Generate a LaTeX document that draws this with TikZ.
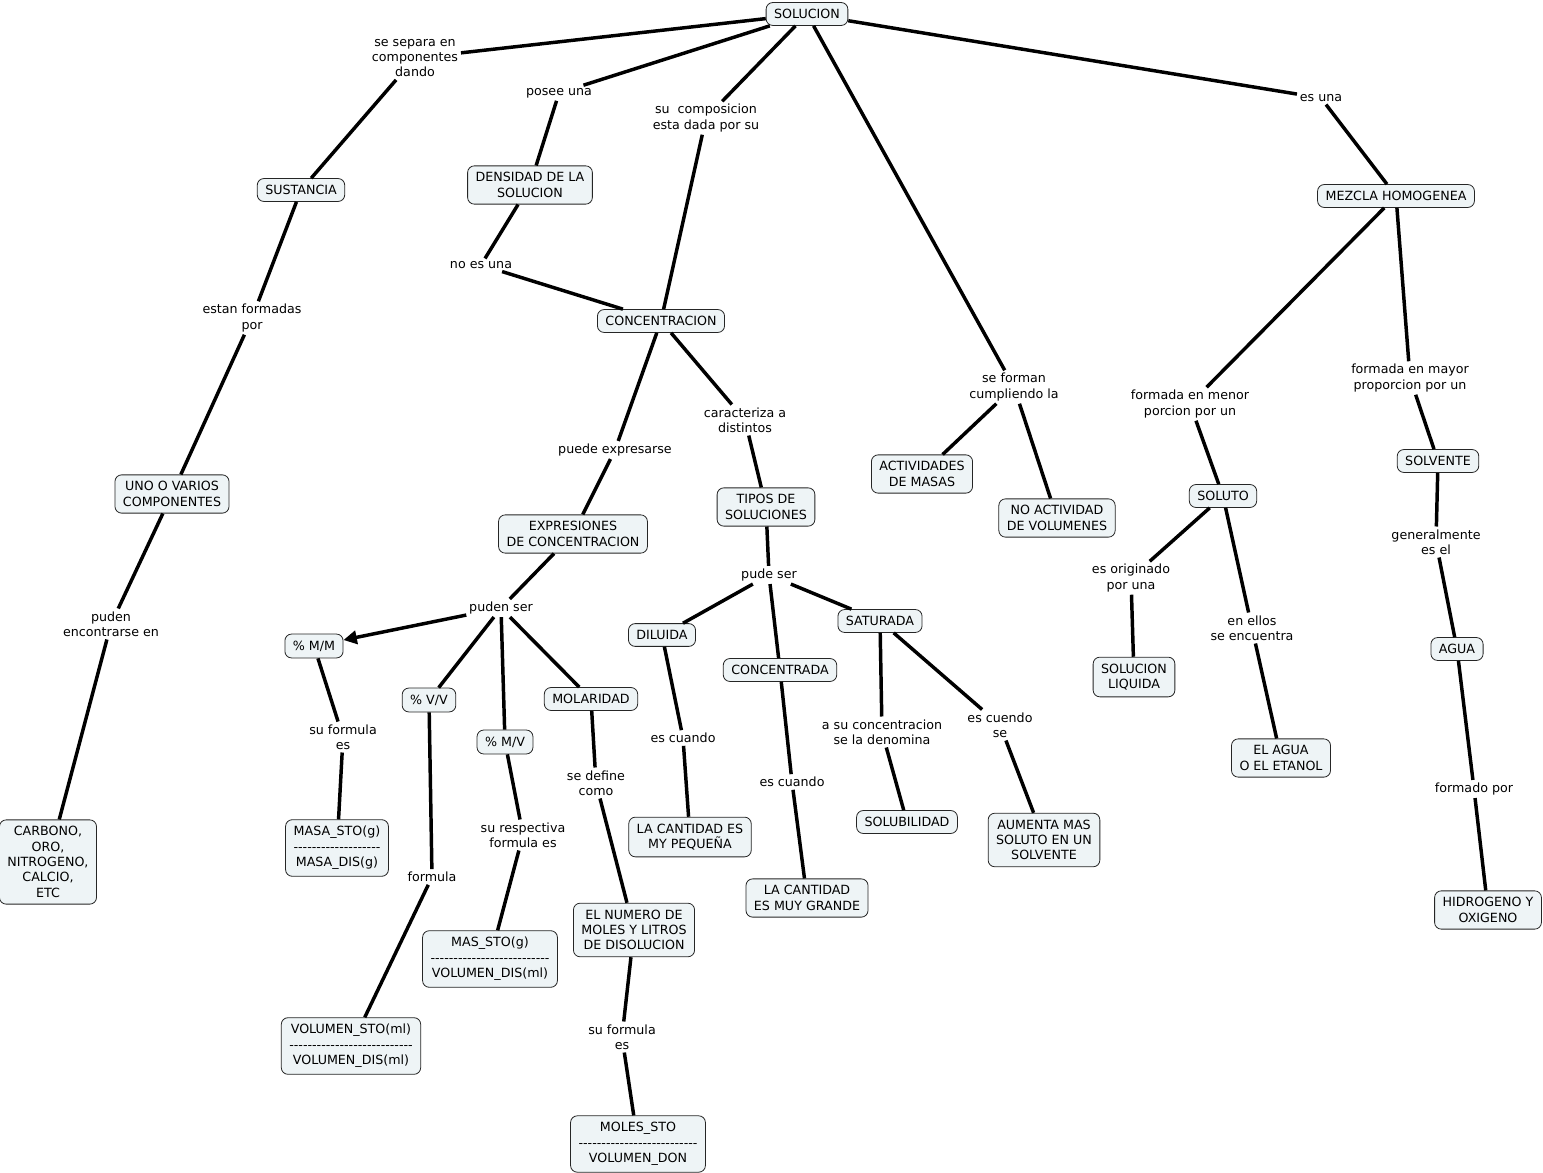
\documentclass[tikz,border=0pt]{standalone}
\usepackage{fontspec}
\setmainfont{DejaVu Sans}
\usetikzlibrary{arrows.meta}
\definecolor{cmapfill}{RGB}{238,244,246}

% linea de guiones sin ligaduras
\newcommand{\fracdash}[1]{\foreach \i in {1,...,#1}{-}}

\tikzset{
  concept/.style={draw=black!85, line width=0.6pt, fill=cmapfill, rounded corners=5pt,
    align=center, font=\fontsize{9.5}{11.5}\selectfont, inner xsep=6pt, inner ysep=5pt},
  linkword/.style={align=center, font=\fontsize{9.5}{11.5}\selectfont, inner sep=2pt},
  link/.style={line width=2.6pt, black}
}

\begin{document}
\begin{tikzpicture}[x=0.75pt, y=-0.75pt, >={Triangle[length=10pt,width=10pt]}]
        \useasboundingbox (0,0) rectangle (1543,1173);

        % --- Conceptos ---
        \node[concept] (sol) at (807,14) {SOLUCION};
        \node[concept] (sust) at (301,190) {SUSTANCIA};
        \node[concept] (dens) at (530,185) {DENSIDAD DE LA\\SOLUCION};
        \node[concept] (conc) at (661,321) {CONCENTRACION};
        \node[concept] (mezcla) at (1396,196) {MEZCLA HOMOGENEA};
        \node[concept] (uno) at (172,494) {UNO O VARIOS\\COMPONENTES};
        \node[concept] (carb) at (48,862) {CARBONO,\\ORO,\\NITROGENO,\\CALCIO,\\ETC};
        \node[concept] (expr) at (573,534) {EXPRESIONES\\DE CONCENTRACION};
        \node[concept] (tipos) at (766,507) {TIPOS DE\\SOLUCIONES};
        \node[concept] (activ) at (922,474) {ACTIVIDADES\\DE MASAS};
        \node[concept] (noact) at (1057,518) {NO ACTIVIDAD\\DE VOLUMENES};
        \node[concept] (soluto) at (1223,496) {SOLUTO};
        \node[concept] (solvente) at (1438,461) {SOLVENTE};
        \node[concept] (mm) at (314,646) {\% M/M};
        \node[concept] (vv) at (429,700) {\% V/V};
        \node[concept] (mv) at (505,742) {\% M/V};
        \node[concept] (molar) at (591,699) {MOLARIDAD};
        \node[concept] (dil) at (662,635) {DILUIDA};
        \node[concept] (concd) at (780,670) {CONCENTRADA};
        \node[concept] (sat) at (880,621) {SATURADA};
        \node[concept] (masa) at (337,848) {MASA\_STO(g)\\\fracdash{19}\\MASA\_DIS(g)};
        \node[concept] (vol) at (351,1046) {VOLUMEN\_STO(ml)\\\fracdash{27}\\VOLUMEN\_DIS(ml)};
        \node[concept] (mas) at (490,959) {MAS\_STO(g)\\\fracdash{26}\\VOLUMEN\_DIS(ml)};
        \node[concept] (numero) at (634,930) {EL NUMERO DE\\MOLES Y LITROS\\DE DISOLUCION};
        \node[concept] (moles) at (638,1144) {MOLES\_STO\\\fracdash{26}\\VOLUMEN\_DON};
        \node[concept] (pequena) at (690,837) {LA CANTIDAD ES\\MY PEQUEÑA};
        \node[concept] (grande) at (807,898) {LA CANTIDAD\\ES MUY GRANDE};
        \node[concept] (solub) at (907,822) {SOLUBILIDAD};
        \node[concept] (aumenta) at (1044,840) {AUMENTA MAS\\SOLUTO EN UN\\SOLVENTE};
        \node[concept] (liquida) at (1134,677) {SOLUCION\\LIQUIDA};
        \node[concept] (etanol) at (1281,758) {EL AGUA\\O EL ETANOL};
        \node[concept] (agua) at (1457,649) {AGUA};
        \node[concept] (hidro) at (1488,910) {HIDROGENO Y\\OXIGENO};

        % --- Palabras de enlace ---
        \node[linkword] (lsep) at (415,58) {se separa en\\componentes\\dando};
        \node[linkword] (lposee) at (559,93) {posee una};
        \node[linkword] (lcomp) at (706,118) {su\ \ composicion\\esta dada por su};
        \node[linkword] (lforman) at (1014,387) {se forman\\cumpliendo la};
        \node[linkword] (lesuna) at (1321,98) {es una};
        \node[linkword] (lnoes) at (481,265) {no es una};
        \node[linkword] (lestan) at (252,318) {estan formadas\\por};
        \node[linkword] (lpuden) at (111,624) {puden\\encontrarse en};
        \node[linkword] (lexpresa) at (615,450) {puede expresarse};
        \node[linkword] (lcaract) at (745,420) {caracteriza a\\distintos};
        \node[linkword] (lpudenser) at (501,608) {puden ser};
        \node[linkword] (lformm) at (343,737) {su formula\\es};
        \node[linkword] (lformvv) at (432,877) {formula};
        \node[linkword] (lformmv) at (523,835) {su respectiva\\formula es};
        \node[linkword] (ldefine) at (596,783) {se define\\como};
        \node[linkword] (lformmol) at (622,1037) {su formula\\es};
        \node[linkword] (lpude) at (769,575) {pude ser};
        \node[linkword] (lcuandodil) at (683,738) {es cuando};
        \node[linkword] (lcuandocon) at (792,782) {es cuando};
        \node[linkword] (ldenomina) at (882,732) {a su concentracion\\se la denomina};
        \node[linkword] (lcuendo) at (1000,725) {es cuendo\\se};
        \node[linkword] (lmenor) at (1190,404) {formada en menor\\porcion por un};
        \node[linkword] (lmayor) at (1410,378) {formada en mayor\\proporcion por un};
        \node[linkword] (loriginado) at (1131,578) {es originado\\por una};
        \node[linkword] (lellos) at (1252,628) {en ellos\\se encuentra};
        \node[linkword] (lgeneral) at (1436,542) {generalmente\\es el};
        \node[linkword] (lformado) at (1474,789) {formado por};

        % --- Enlaces ---
        \draw[link] (sol) -- (lsep) -- (sust);
        \draw[link] (sol) -- (lposee) -- (dens);
        \draw[link] (sol) -- (lcomp) -- (conc);
        \draw[link] (sol) -- (lforman);
        \draw[link] (lforman) -- (activ);
        \draw[link] (lforman) -- (noact);
        \draw[link] (sol) -- (lesuna) -- (mezcla);
        \draw[link] (dens) -- (lnoes) -- (conc);
        \draw[link] (sust) -- (lestan) -- (uno);
        \draw[link] (uno) -- (lpuden) -- (carb);
        \draw[link] (conc) -- (lexpresa) -- (expr);
        \draw[link] (conc) -- (lcaract) -- (tipos);
        \draw[link] (expr) -- (lpudenser);
        \draw[link, ->] (lpudenser) -- (mm);
        \draw[link] (lpudenser) -- (vv);
        \draw[link] (lpudenser) -- (mv);
        \draw[link] (lpudenser) -- (molar);
        \draw[link] (mm) -- (lformm) -- (masa);
        \draw[link] (vv) -- (lformvv) -- (vol);
        \draw[link] (mv) -- (lformmv) -- (mas);
        \draw[link] (molar) -- (ldefine) -- (numero);
        \draw[link] (numero) -- (lformmol) -- (moles);
        \draw[link] (tipos) -- (lpude);
        \draw[link] (lpude) -- (dil);
        \draw[link] (lpude) -- (concd);
        \draw[link] (lpude) -- (sat);
        \draw[link] (dil) -- (lcuandodil) -- (pequena);
        \draw[link] (concd) -- (lcuandocon) -- (grande);
        \draw[link] (sat) -- (ldenomina) -- (solub);
        \draw[link] (sat) -- (lcuendo) -- (aumenta);
        \draw[link] (mezcla) -- (lmenor) -- (soluto);
        \draw[link] (mezcla) -- (lmayor) -- (solvente);
        \draw[link] (soluto) -- (loriginado) -- (liquida);
        \draw[link] (soluto) -- (lellos) -- (etanol);
        \draw[link] (solvente) -- (lgeneral) -- (agua);
        \draw[link] (agua) -- (lformado) -- (hidro);
\end{tikzpicture}
\end{document}
